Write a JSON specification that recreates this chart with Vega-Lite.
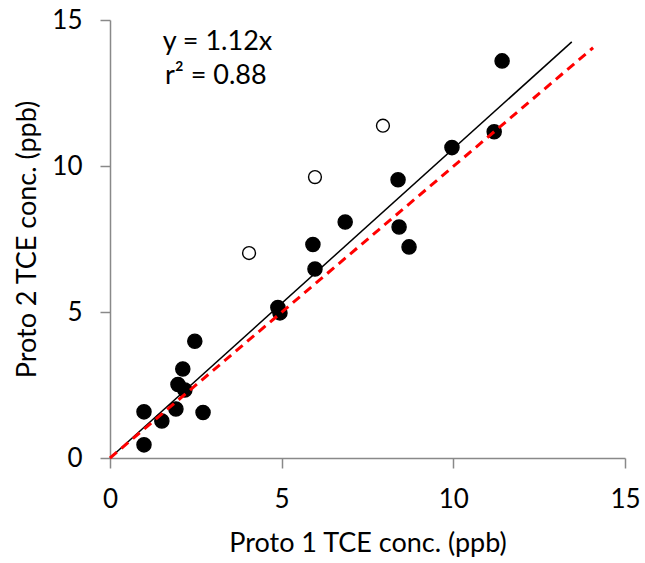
{
  "$schema": "https://vega.github.io/schema/vega-lite/v6.json",
  "width": 515,
  "height": 438,
  "autosize": {"type": "none"},
  "padding": {"left": 110, "top": 20, "right": 20, "bottom": 105},
  "background": "white",
  "config": {
    "view": {"stroke": null},
    "font": "Lato",
    "axis": {
      "grid": false,
      "domainColor": "#898989",
      "domainWidth": 1.5,
      "tickColor": "#898989",
      "tickWidth": 1.5,
      "tickSize": 10,
      "labelFont": "Lato",
      "labelFontSize": 26,
      "labelColor": "black",
      "labelFlush": false,
      "titleFont": "Lato",
      "titleFontSize": 27,
      "titleFontWeight": "normal",
      "titleColor": "black"
    }
  },
  "datasets": {
    "points": [
      {"p1": 0.99, "p2": 1.58, "kind": "included"},
      {"p1": 0.99, "p2": 0.45, "kind": "included"},
      {"p1": 1.51, "p2": 1.27, "kind": "included"},
      {"p1": 1.92, "p2": 1.68, "kind": "included"},
      {"p1": 1.98, "p2": 2.52, "kind": "included"},
      {"p1": 2.12, "p2": 3.05, "kind": "included"},
      {"p1": 2.18, "p2": 2.33, "kind": "included"},
      {"p1": 2.47, "p2": 4.0, "kind": "included"},
      {"p1": 2.71, "p2": 1.56, "kind": "included"},
      {"p1": 4.89, "p2": 5.15, "kind": "included"},
      {"p1": 4.95, "p2": 4.97, "kind": "included"},
      {"p1": 5.97, "p2": 6.47, "kind": "included"},
      {"p1": 5.91, "p2": 7.31, "kind": "included"},
      {"p1": 6.85, "p2": 8.08, "kind": "included"},
      {"p1": 8.39, "p2": 9.53, "kind": "included"},
      {"p1": 8.42, "p2": 7.91, "kind": "included"},
      {"p1": 8.71, "p2": 7.23, "kind": "included"},
      {"p1": 9.96, "p2": 10.63, "kind": "included"},
      {"p1": 11.19, "p2": 11.17, "kind": "included"},
      {"p1": 11.42, "p2": 13.6, "kind": "included"},
      {"p1": 4.05, "p2": 7.02, "kind": "excluded"},
      {"p1": 5.97, "p2": 9.62, "kind": "excluded"},
      {"p1": 7.95, "p2": 11.38, "kind": "excluded"}
    ],
    "fit": [
      {"p1": 0, "p2": 0},
      {"p1": 13.45, "p2": 14.25}
    ],
    "oneToOne": [
      {"p1": 0, "p2": 0},
      {"p1": 14.07, "p2": 14.05}
    ],
    "labels": [
      {"p1": 3.13, "p2": 14.25, "label": "y = 1.12x"},
      {"p1": 3.08, "p2": 13.08, "label": "r² = 0.88"}
    ]
  },
  "encoding": {
    "x": {
      "field": "p1",
      "type": "quantitative",
      "scale": {"domain": [0, 15], "nice": false, "zero": true},
      "axis": {"values": [0, 5, 10, 15], "title": "Proto 1 TCE conc. (ppb)", "labelPadding": 18, "titlePadding": 18}
    },
    "y": {
      "field": "p2",
      "type": "quantitative",
      "scale": {"domain": [0, 15], "nice": false, "zero": true},
      "axis": {"values": [0, 5, 10, 15], "title": "Proto 2 TCE conc. (ppb)", "labelPadding": 18, "titlePadding": 10}
    }
  },
  "layer": [
    {
      "data": {"name": "points"},
      "mark": {"type": "point", "shape": "circle", "filled": false, "stroke": "black", "strokeWidth": 1.4, "opacity": 1},
      "encoding": {
        "fill": {
          "field": "kind",
          "type": "nominal",
          "scale": {"domain": ["included", "excluded"], "range": ["black", "white"]},
          "legend": null
        },
        "size": {
          "field": "kind",
          "type": "nominal",
          "scale": {"domain": ["included", "excluded"], "range": [200, 165]},
          "legend": null
        }
      }
    },
    {
      "data": {"name": "fit"},
      "mark": {"type": "line", "color": "black", "strokeWidth": 1.5},
      "encoding": {}
    },
    {
      "data": {"name": "oneToOne"},
      "mark": {"type": "line", "color": "#ff0000", "strokeWidth": 3, "strokeDash": [9, 6]},
      "encoding": {}
    },
    {
      "data": {"name": "labels"},
      "mark": {"type": "text", "font": "Lato", "fontSize": 27, "color": "black", "align": "center", "baseline": "middle"},
      "encoding": {"text": {"field": "label"}}
    }
  ]
}
